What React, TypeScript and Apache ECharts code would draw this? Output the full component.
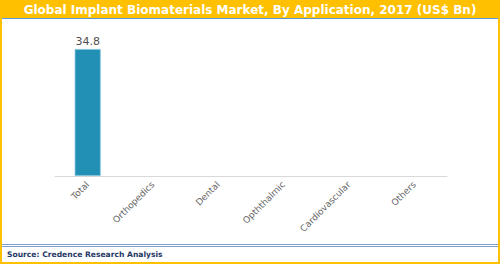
import React, { useEffect, useRef } from "react";
import * as echarts from "echarts";

const categories = ["Total", "Orthopedics", "Dental", "Opththalmic", "Cardiovascular", "Others"];
const values: (number | null)[] = [34.8, null, null, null, null, null];
const titleText = "Global Implant Biomaterials Market, By Application, 2017 (US$ Bn)";
const sourceText = "Source: Credence Research Analysis";

export default function App() {
  const ref = useRef<HTMLDivElement>(null);
  useEffect(() => {
    if (!ref.current) return;
    const chart = echarts.init(ref.current, null, { renderer: "svg" });
    const gold = "#FFC000";
    chart.setOption({
      animation: false,
      backgroundColor: "#ffffff",
      grid: { left: 55, right: 53, top: 30, bottom: 88 },
      xAxis: {
        type: "category",
        data: categories,
        axisLine: { show: true, lineStyle: { color: "#d9d9d9", width: 1 } },
        axisTick: { show: false },
        axisLabel: {
          rotate: 45,
          color: "#666666",
          fontFamily: "DejaVu Sans",
          fontSize: 9,
          interval: 0,
          margin: 7,
        },
      },
      yAxis: {
        type: "value",
        min: 0,
        max: 40,
        show: false,
        splitLine: { show: false },
      },
      series: [
        {
          type: "bar",
          data: values,
          barWidth: 26,
          itemStyle: { color: "#228FB5", borderColor: "#7CC3DB", borderWidth: 0.8 },
          label: {
            show: true,
            position: "top",
            color: "#505050",
            fontFamily: "DejaVu Sans",
            fontSize: 11,
            distance: 2,
          },
        },
      ],
      graphic: [
        { type: "rect", shape: { x: 0, y: 0, width: 500, height: 18 }, style: { fill: gold }, z: 10 },
        {
          type: "text",
          x: 250,
          y: 10,
          style: {
            text: titleText,
            fill: "#ffffff",
            font: "bold 12px 'DejaVu Sans'",
            textAlign: "center",
            textVerticalAlign: "middle",
          },
          z: 11,
        },
        { type: "line", shape: { x1: 0, y1: 18.5, x2: 500, y2: 18.5 }, style: { stroke: "#5B9BD5", lineWidth: 1 }, z: 10 },
        { type: "rect", shape: { x: 0, y: 0, width: 2, height: 264 }, style: { fill: gold }, z: 10 },
        { type: "rect", shape: { x: 498, y: 0, width: 2, height: 264 }, style: { fill: gold }, z: 10 },
        { type: "rect", shape: { x: 0, y: 262, width: 500, height: 2 }, style: { fill: gold }, z: 10 },
        { type: "line", shape: { x1: 2, y1: 244.5, x2: 498, y2: 244.5 }, style: { stroke: "#7F9FCF", lineWidth: 1 }, z: 10 },
        { type: "line", shape: { x1: 2, y1: 246.5, x2: 498, y2: 246.5 }, style: { stroke: "#7F9FCF", lineWidth: 1 }, z: 10 },
        {
          type: "text",
          x: 7,
          y: 254,
          style: {
            text: sourceText,
            fill: "#1F3864",
            font: "bold 7.6px 'DejaVu Sans'",
            textVerticalAlign: "middle",
          },
          z: 11,
        },
      ],
    });
    return () => chart.dispose();
  }, []);
  return (
    <div
      ref={ref}
      style={{ position: "absolute", left: 0, top: 0, width: 500, height: 264 }}
    />
  );
}
